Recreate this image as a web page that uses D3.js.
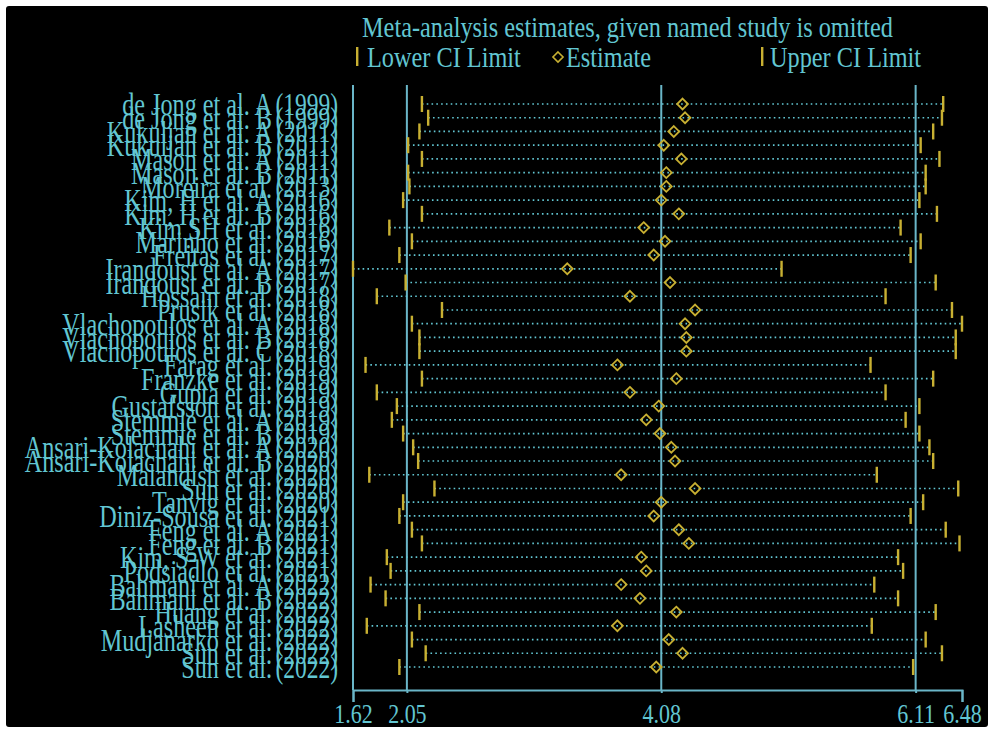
<!DOCTYPE html>
<html>
<head>
<meta charset="utf-8">
<script src="https://cdnjs.cloudflare.com/ajax/libs/d3/7.8.5/d3.min.js"></script>
<style>
body { margin: 0; background: #fff; }
svg text { font-family: "Liberation Serif", "Times New Roman", serif; fill: #62c6d2; }
</style>
</head>
<body>
<svg id="chart" width="994" height="733"></svg>
<script>
// study names, years and the omitted-study estimates
var studies = ['de Jong et al. A', 'de Jong et al. B', 'Kukuljan et al. A', 'Kukuljan et al. B',
  'Mason et al. A', 'Mason et al. B', 'Moreira et al.', 'Kim, H et al. A', 'Kim, H et al. B',
  'Kim SH et al.', 'Marinho et al.', 'Freitas et al.', 'Irandoust et al. A', 'Irandoust et al. B',
  'Hossain et al.', 'Prusik et al.', 'Vlachopoulos et al. A', 'Vlachopoulos et al. B',
  'Vlachopoulos et al. C', 'Farag et al.', 'Franzke et al.', 'Gupta et al.', 'Gustafsson et al.',
  'Stemmle et al. A', 'Stemmle et al. B', 'Ansari-Kolachahi et al. A', 'Ansari-Kolachahi et al. B',
  'Malandish et al.', 'Sun et al.', 'Tanvig et al.', 'Diniz-Sousa et al.', 'Feng et al. A',
  'Feng et al. B', 'Kim, S-W et al.', 'Podsiadlo et al.', 'Bahmani et al. A', 'Bahmani et al. B',
  'Huang et al.', 'Lasheen et al.', 'Mudjanarko et al.', 'Sun et al.', 'Sun et al.'];
var years = [1999, 1999, 2011, 2011, 2011, 2011, 2013, 2016, 2016, 2016, 2016, 2017, 2017, 2017,
  2018, 2018, 2018, 2018, 2018, 2019, 2019, 2019, 2019, 2019, 2019, 2020, 2020, 2020, 2020, 2020,
  2021, 2021, 2021, 2021, 2021, 2022, 2022, 2022, 2022, 2022, 2022, 2022];
var lower = [2.17, 2.22, 2.15, 2.06, 2.17, 2.06, 2.07, 2.02, 2.17, 1.91, 2.09, 1.99, 1.62, 2.04,
  1.81, 2.33, 2.09, 2.15, 2.15, 1.72, 2.17, 1.81, 1.97, 1.93, 2.02, 2.10, 2.14, 1.75, 2.27, 2.02,
  1.99, 2.09, 2.17, 1.89, 1.92, 1.76, 1.88, 2.15, 1.73, 2.09, 2.20, 1.99];
var estimate = [4.25, 4.27, 4.18, 4.10, 4.24, 4.12, 4.12, 4.08, 4.22, 3.94, 4.11, 4.02, 3.33, 4.15,
  3.83, 4.35, 4.27, 4.28, 4.28, 3.73, 4.20, 3.83, 4.06, 3.96, 4.07, 4.16, 4.19, 3.76, 4.35, 4.08,
  4.02, 4.22, 4.30, 3.92, 3.96, 3.76, 3.91, 4.20, 3.73, 4.14, 4.25, 4.04];
var upper = [6.33, 6.32, 6.25, 6.15, 6.30, 6.19, 6.19, 6.14, 6.28, 5.99, 6.15, 6.07, 5.04, 6.27,
  5.87, 6.40, 6.48, 6.43, 6.43, 5.75, 6.25, 5.87, 6.14, 6.03, 6.14, 6.22, 6.25, 5.80, 6.45, 6.17,
  6.07, 6.35, 6.46, 5.97, 6.01, 5.78, 5.97, 6.27, 5.76, 6.19, 6.32, 6.09];
var tickValues = [1.62, 2.05, 4.08, 6.11, 6.48];
var refLines = [1.62, 2.05, 4.08, 6.11];

var cyan = '#62c6d2', lineCol = '#6ab6c8', yellow = '#c8b032';

var svg = d3.select('#chart');
svg.append('rect').attr('x', 6).attr('y', 6).attr('width', 982).attr('height', 721)
  .attr('rx', 3).attr('fill', '#000');

var x = d3.scaleLinear().domain([1.62, 6.48]).range([353, 962]);
var y = d3.scalePoint().domain(d3.range(studies.length)).range([104, 667]);
var axisY = 690;

function stretchedText(parent, tx, ty, str, size, anchor, sy) {
  return parent.append('g').attr('transform', 'translate(' + tx + ',' + ty + ') scale(1,' + sy + ')')
    .append('text').attr('text-anchor', anchor).attr('dy', '0.35em')
    .style('font-size', size + 'px').style('white-space', 'pre').text(str);
}

// title + legend
stretchedText(svg, 362, 27, 'Meta-analysis estimates, given named study is omitted', 24.3, 'start', 1.22);
var leg = svg.append('g');
[357, 762].forEach(function(lx) {
  leg.append('rect').attr('x', lx - 1).attr('y', 47).attr('width', 2.4).attr('height', 19).attr('fill', yellow);
});
leg.append('path').attr('d', d3.symbol(d3.symbolDiamond2, 65)()).attr('transform', 'translate(558,57)')
  .attr('fill', 'none').attr('stroke', yellow).attr('stroke-width', 1.6);
stretchedText(leg, 367, 57, 'Lower CI Limit', 24.3, 'start', 1.22);
stretchedText(leg, 566, 57, 'Estimate', 24.3, 'start', 1.22);
stretchedText(leg, 770, 57, 'Upper CI Limit', 24.3, 'start', 1.22);

// reference lines
svg.append('g').selectAll('line').data(refLines).join('line')
  .attr('x1', d => x(d)).attr('x2', d => x(d)).attr('y1', 85).attr('y2', axisY)
  .attr('stroke', lineCol).attr('stroke-width', 2);

// axis
var axis = svg.append('g').attr('transform', 'translate(0,' + axisY + ')')
  .call(d3.axisBottom(x).tickValues(tickValues).tickSizeOuter(0).tickSize(12).tickFormat(d3.format('.2f')));
axis.select('.domain').attr('stroke', lineCol).attr('stroke-width', 2);
axis.selectAll('.tick line').attr('stroke', lineCol).attr('stroke-width', 2)
  .attr('y2', d => (d === 1.62 || d === 6.48) ? 12 : 3);
axis.selectAll('.tick text').attr('y', 19.5).attr('dy', '0.35em').attr('fill', cyan)
  .attr('transform', 'scale(1,1.2)')
  .style('font-size', '22px').style('font-family', '"Liberation Serif", serif');

// rows
var rows = svg.append('g').selectAll('g').data(d3.range(studies.length)).join('g')
  .attr('transform', i => 'translate(0,' + y(i) + ')');
rows.append('line').attr('x1', i => x(lower[i])).attr('x2', i => x(upper[i]))
  .attr('stroke', cyan).attr('stroke-width', 1.7).attr('stroke-dasharray', '1.6,3.2');
rows.append('rect').attr('x', i => x(lower[i]) - 1.2).attr('y', -8).attr('width', 2.4).attr('height', 16).attr('fill', yellow);
rows.append('rect').attr('x', i => x(upper[i]) - 1.2).attr('y', -8).attr('width', 2.4).attr('height', 16).attr('fill', yellow);
rows.append('path').attr('d', d3.symbol(d3.symbolDiamond2, 75)())
  .attr('transform', i => 'translate(' + x(estimate[i]) + ',0)')
  .attr('fill', 'none').attr('stroke', yellow).attr('stroke-width', 1.8);

// study labels
rows.each(function(i) {
  var g = d3.select(this);
  stretchedText(g, 272, 0, studies[i], 24.2, 'end', 1.32);
  stretchedText(g, 338, 0, '(' + years[i] + ')', 23.5, 'end', 1.32);
});
</script>
</body>
</html>
